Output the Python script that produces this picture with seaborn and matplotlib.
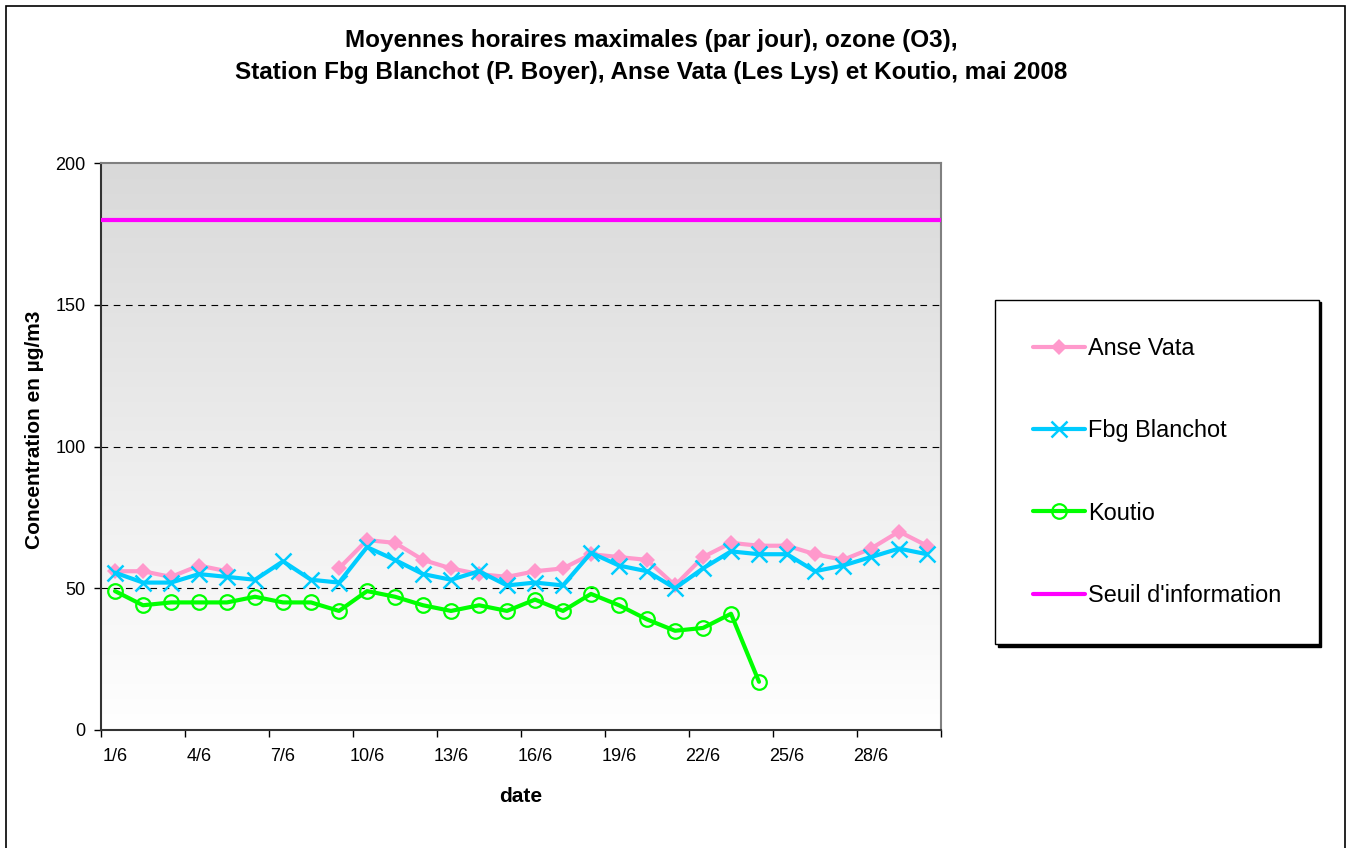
import numpy as np
import pandas as pd
import matplotlib
matplotlib.use("Agg")
import matplotlib.pyplot as plt
import seaborn as sns
from matplotlib.patches import Rectangle

# ---------------- data ----------------
days = list(range(1, 31))
day_labels = [f"{d}/6" for d in days]
nan = np.nan
anse_vata = [56, 56, 54, 58, 56, nan, nan, nan, 57, 67, 66, 60, 57, 55, 54,
             56, 57, 62, 61, 60, 51, 61, 66, 65, 65, 62, 60, 64, 70, 65]
fbg_blanchot = [55.5, 52, 52, 55, 54, 53, 59.5, 53, 52, 64.5, 60, 55, 53, 56, 51,
                52, 51, 62.5, 58, 56, 50, 57, 63, 62, 62, 56, 58, 61, 64, 62]
koutio = [49, 44, 45, 45, 45, 47, 45, 45, 42, 49, 47, 44, 42, 44, 42,
          46, 42, 48, 44, 39, 35, 36, 41, 17, nan, nan, nan, nan, nan, nan]
seuil = 180
series_names = ["Anse Vata", "Fbg Blanchot", "Koutio"]
series_values = [anse_vata, fbg_blanchot, koutio]
yticks = [0, 50, 100, 150, 200]

sns.set_theme(style="white")
plt.rcParams["font.family"] = ["Liberation Sans", "DejaVu Sans"]
plt.rcParams["text.color"] = "black"
plt.rcParams["axes.labelcolor"] = "black"
plt.rcParams["xtick.color"] = "black"
plt.rcParams["ytick.color"] = "black"

fig = plt.figure(figsize=(13.5, 8.48), dpi=100)
ax = fig.add_axes([101/1350, 1-730/848, 840/1350, 567/848])

# gradient background
grad = np.linspace(1, 0, 256).reshape(-1, 1)
ax.imshow(grad, extent=[0, 1, 0, 1], transform=ax.transAxes, aspect="auto",
          cmap=matplotlib.colors.LinearSegmentedColormap.from_list("g", ["#ffffff", "#d9d9d9"]),
          zorder=0)

styles = {
    "Anse Vata": dict(color="#ff99cc", marker="D", markersize=8, markeredgewidth=0,
                      markerfacecolor="#ff99cc"),
    "Fbg Blanchot": dict(color="#00ccff", marker="x", markersize=12, markeredgewidth=1.8,
                         markeredgecolor="#00ccff"),
    "Koutio": dict(color="#00ff00", marker="o", markersize=10.5, markeredgewidth=1.6,
                   markerfacecolor="none", markeredgecolor="#00ff00"),
}

for name, vals in zip(series_names, series_values):
    df = pd.DataFrame({"day": days, "val": vals})
    df["seg"] = df["val"].isna().cumsum()
    df = df.dropna()
    first = True
    for seg, sub in df.groupby("seg"):
        sns.lineplot(data=sub, x="day", y="val", ax=ax, linewidth=3,
                     label=name if first else None, legend=False, zorder=3,
                     **styles[name])
        first = False

ax.axhline(seuil, color="#ff00ff", linewidth=3, zorder=3, label="Seuil d'information")

ax.set_xlim(0.5, 30.5)
ax.set_ylim(0, 200)
ax.set_yticks(yticks)
ax.set_yticklabels([str(v) for v in yticks], fontsize=13)
ax.set_xticks(np.arange(0.5, 31, 3))
ax.set_xticklabels([])
ax.set_xticks(days[::3], minor=True)
ax.set_xticklabels(day_labels[::3], minor=True, fontsize=13)
ax.tick_params(axis="x", which="minor", length=0, pad=13)
ax.tick_params(axis="x", which="major", length=5, width=1, color="black", direction="out", bottom=True)
ax.tick_params(axis="y", length=5, width=1, color="black", direction="out", left=True, pad=6)

for y in [50, 100, 150]:
    ax.axhline(y, color="black", linestyle=(0, (6, 5)), linewidth=0.8, zorder=1)

ax.spines["left"].set_color("#333333")
ax.spines["bottom"].set_color("#333333")
ax.spines["top"].set_color("#808080")
ax.spines["right"].set_color("#808080")
for s in ax.spines.values():
    s.set_linewidth(1.5)
    s.set_visible(True)

ax.set_xlabel("date", fontsize=15, fontweight="bold", labelpad=16)
ax.set_ylabel("Concentration en µg/m3", fontsize=15, fontweight="bold")
ax.yaxis.set_label_coords(-0.068, 0.529)

fig.text(651/1350, 1-40/848, "Moyennes horaires maximales (par jour), ozone (O3),",
         ha="center", va="center", fontsize=17.5, fontweight="bold")
fig.text(651/1350, 1-73/848, "Station Fbg Blanchot (P. Boyer), Anse Vata (Les Lys) et Koutio, mai 2008",
         ha="center", va="center", fontsize=17.5, fontweight="bold")

handles, labels = ax.get_legend_handles_labels()
leg = fig.legend(handles, labels, loc="center left",
                 bbox_to_anchor=(995/1350, 1-472/848), fontsize=16.9,
                 frameon=True, fancybox=False, shadow={"color": "black", "alpha": 1},
                 edgecolor="black", labelspacing=2.52, handlelength=2.25,
                 handletextpad=0.1, borderpad=1.6, borderaxespad=0)
leg.get_frame().set_linewidth(1)

# figure border
fig.patches.append(Rectangle((6/1350, -0.01), 1339/1350, 1-6/848+0.01,
                             transform=fig.transFigure, fill=False,
                             edgecolor="black", linewidth=1.2))

fig.savefig("out.png", dpi=100)
